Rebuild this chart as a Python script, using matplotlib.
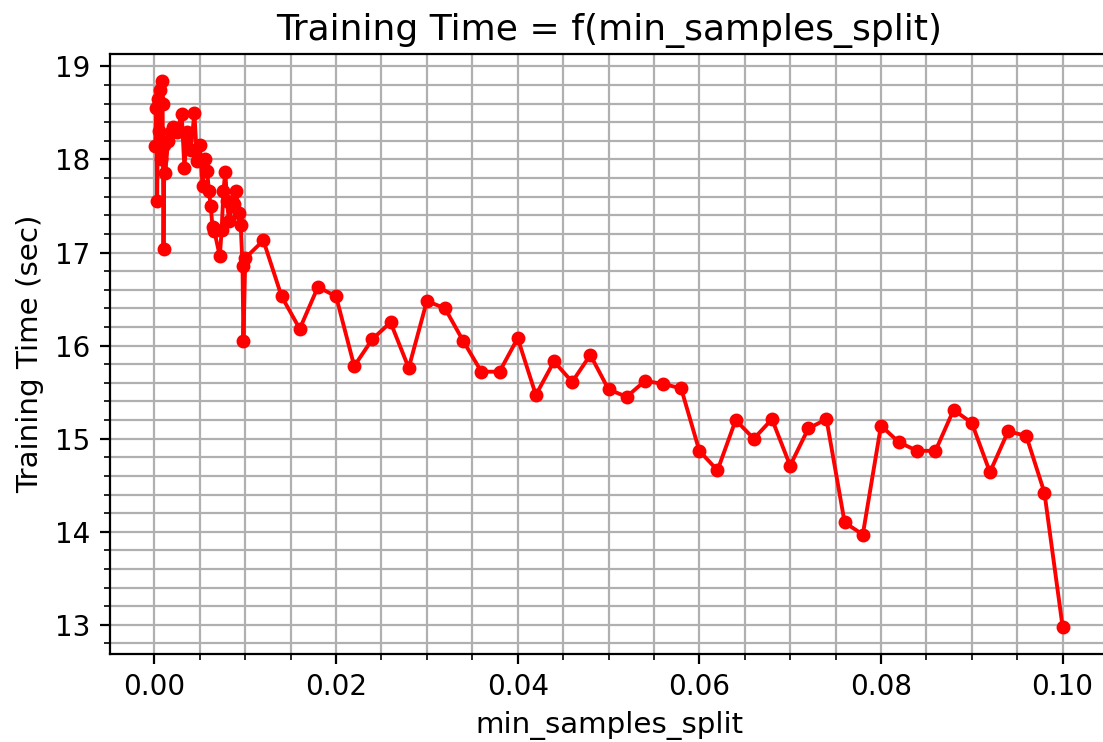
import matplotlib
matplotlib.use("Agg")
import matplotlib.pyplot as plt

# min_samples_split values (fraction of samples) and measured training times
split_fine = [0.0001, 0.0002, 0.0003, 0.0004, 0.0005, 0.0006, 0.0007, 0.0008,
              0.0009, 0.001, 0.0011, 0.0012, 0.0015, 0.0018, 0.002, 0.0025,
              0.003, 0.0033, 0.0036, 0.004, 0.0044, 0.0047, 0.005, 0.0053,
              0.0056, 0.0058, 0.006, 0.0062, 0.0064, 0.0066, 0.0072, 0.0074,
              0.0076, 0.0078, 0.008, 0.0082, 0.0085, 0.0088, 0.009, 0.0093,
              0.0095, 0.0097, 0.0098, 0.01]
time_fine = [18.15, 18.55, 17.55, 18.65, 18.31, 18.75, 18.0, 18.84,
             18.6, 17.04, 18.16, 17.86, 18.2, 18.3, 18.35, 18.3,
             18.49, 17.91, 18.3, 18.1, 18.5, 17.98, 18.16, 17.72,
             18.0, 17.88, 17.66, 17.5, 17.27, 17.23, 16.96, 17.24,
             17.66, 17.87, 17.55, 17.34, 17.5, 17.52, 17.66, 17.43,
             17.3, 16.86, 16.05, 16.94]

split_coarse = [0.012, 0.014, 0.016, 0.018, 0.02, 0.022, 0.024, 0.026, 0.028,
                0.03, 0.032, 0.034, 0.036, 0.038, 0.04, 0.042, 0.044, 0.046,
                0.048, 0.05, 0.052, 0.054, 0.056, 0.058, 0.06, 0.062, 0.064,
                0.066, 0.068, 0.07, 0.072, 0.074, 0.076, 0.078, 0.08, 0.082,
                0.084, 0.086, 0.088, 0.09, 0.092, 0.094, 0.096, 0.098, 0.1]
time_coarse = [17.13, 16.53, 16.18, 16.63, 16.53, 15.78, 16.07, 16.25, 15.76,
               16.48, 16.4, 16.05, 15.72, 15.72, 16.08, 15.47, 15.83, 15.61,
               15.9, 15.53, 15.45, 15.62, 15.59, 15.54, 14.87, 14.66, 15.2,
               15.0, 15.21, 14.71, 15.11, 15.21, 14.1, 13.97, 15.14, 14.96,
               14.87, 14.87, 15.31, 15.17, 14.64, 15.08, 15.03, 14.42, 12.98]

min_samples_split = split_fine + split_coarse
training_time = time_fine + time_coarse

fig = plt.figure(figsize=(5.515, 3.71), dpi=200)
ax = fig.add_axes([0.0997, 0.1186, 0.9048, 0.8086])

ax.plot(min_samples_split, training_time, color="red", marker="o",
        markersize=4, linewidth=1.4)

ax.minorticks_on()
ax.grid(True, which="both", color="#b0b0b0", linewidth=0.8)
ax.set_axisbelow(True)

ax.set_title("Training Time = f(min_samples_split)", fontsize=13, pad=5)
ax.set_xlabel("min_samples_split", fontsize=10.6, labelpad=3.5)
ax.set_ylabel("Training Time (sec)", fontsize=10.6, labelpad=4)
ax.tick_params(labelsize=10)

fig.savefig("out.png", dpi=200)
